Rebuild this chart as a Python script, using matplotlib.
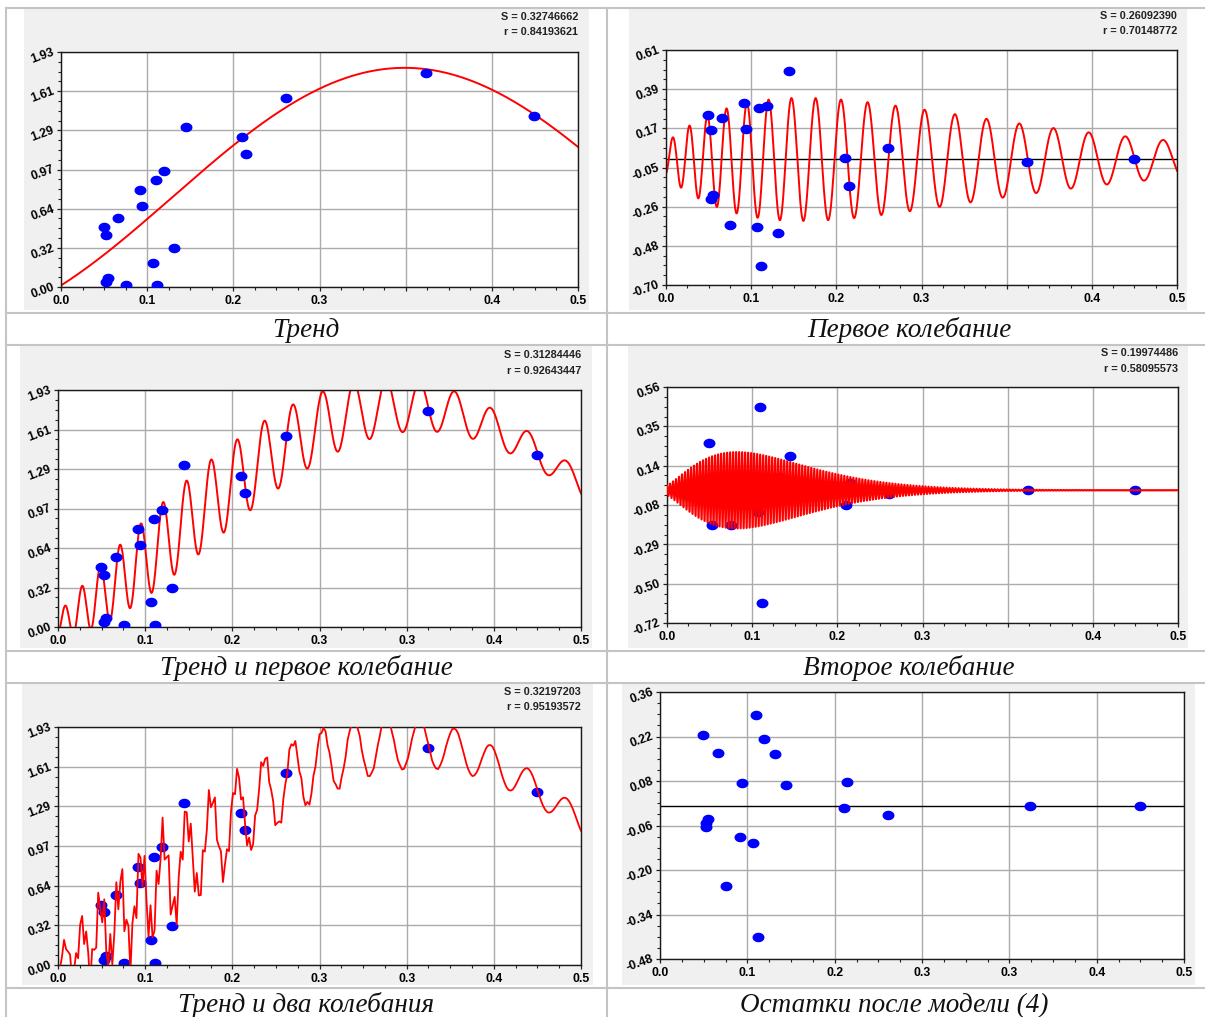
import numpy as np
import matplotlib
matplotlib.use("Agg")
import matplotlib.pyplot as plt
from matplotlib.path import Path
from matplotlib.patches import Rectangle
from matplotlib.ticker import AutoMinorLocator

plt.rcParams["font.family"] = ["Liberation Sans", "DejaVu Sans"]

W, H = 1205, 1017

# observed points (same x in every panel)
x_obs = [0.0413, 0.0436, 0.0440, 0.0456, 0.0552, 0.0630, 0.0761, 0.0783, 0.0887, 0.0914,
         0.0932, 0.0992, 0.1094, 0.1207, 0.1752, 0.1787, 0.2177, 0.3533, 0.4577]
y_obs = [0.490, 0.427, 0.039, 0.071, 0.569, 0.016, 0.796, 0.667, 0.200, 0.878,
         0.014, 0.955, 0.318, 1.316, 1.229, 1.094, 1.554, 1.759, 1.404]
# residuals after trend / after trend + first oscillation / after model (4)
res_trend = [0.246, 0.163, -0.220, -0.197, 0.233, -0.366, 0.315, 0.168, -0.379, 0.285,
             -0.594, 0.298, -0.411, 0.495, 0.007, -0.147, 0.064, -0.014, 0.003]
res_osc1 = [0.258, 0.060, -0.190, -0.060, 0.074, -0.190, 0.070, -0.080, -0.120, 0.450,
            -0.611, 0.060, 0.070, 0.187, -0.080, 0.039, -0.020, 0.002, 0.002]
res_model = [0.225, -0.053, -0.065, -0.040, 0.169, -0.250, -0.095, 0.075, -0.114, 0.288,
             -0.410, 0.211, 0.165, 0.067, -0.006, 0.076, -0.026, 0.000, 0.001]

# model parameters
trend_par = [0.74, 1.06, 7.0, 0.108]      # level, amplitude, angular freq, inflection
osc1_env = [0.343, 0.0164, 0.1494, 1]     # peak amp, shift, peak scale, power
osc1_phase = [40.55, 0.095, 12.923]       # cycles = k*sqrt(x+x0) - offset
osc2_env = [0.21, 0.012, 0.082, 2]
osc2_freq = 339.6

stats = [("0.32746662", "0.84193621"), ("0.26092390", "0.70148772"),
         ("0.31284446", "0.92643447"), ("0.19974486", "0.58095573"),
         ("0.32197203", "0.95193572"), None]
captions = ["Тренд", "Первое колебание", "Тренд и первое колебание",
            "Второе колебание", "Тренд и два колебания", "Остатки после модели (4)"]
y_ranges = [(0.0, 1.93), (-0.70, 0.61), (0.0, 1.93), (-0.72, 0.56), (0.0, 1.93), (-0.48, 0.36)]
y_labels = [["0.00", "0.32", "0.64", "0.97", "1.29", "1.61", "1.93"],
            ["-0.70", "-0.48", "-0.26", "-0.05", "0.17", "0.39", "0.61"],
            ["0.00", "0.32", "0.64", "0.97", "1.29", "1.61", "1.93"],
            ["-0.72", "-0.50", "-0.29", "-0.08", "0.14", "0.35", "0.56"],
            ["0.00", "0.32", "0.64", "0.97", "1.29", "1.61", "1.93"],
            ["-0.48", "-0.34", "-0.20", "-0.06", "0.08", "0.22", "0.36"]]
x_labels_full = ["0.0", "0.1", "0.2", "0.3", "0.3", "0.4", "0.5"]
x_labels_short = ["0.0", "0.1", "0.2", "0.3", "", "0.4", "0.5"]


def trend(x):
    c, a, w, xi = trend_par
    return c + a * np.sin(w * (x - xi))


def env(x, par):
    a, sh, tp, k = par
    s = (x + sh) / tp
    return a * (s * np.exp(1 - s)) ** k


def osc1(x):
    k, x0, off = osc1_phase
    return env(x, osc1_env) * np.cos(2 * np.pi * (k * np.sqrt(x + x0) - off))


def osc2(x):
    return env(x, osc2_env) * np.cos(2 * np.pi * osc2_freq * x)


xf = np.linspace(0, 0.5, 1500)
xc = np.linspace(0, 0.5, 341)
xs = np.linspace(0, 0.5, 261)

# pixel layout: grey box, plot box, stats y, caption (x, baseline)
layout = [
    ((24, 9, 589, 310), (61, 52, 578, 287), (17, 32), (306, 337)),
    ((629, 9, 1187, 310), (666, 50, 1177, 285), (16, 31), (909, 337)),
    ((20, 346, 592, 648), (58, 390, 581, 627), (355, 371), (306, 675)),
    ((628, 346, 1188, 648), (667, 387, 1178, 623), (353, 369), (909, 675)),
    ((22, 684, 593, 985), (58, 727, 581, 965), (692, 707), (306, 1012)),
    ((622, 684, 1195, 985), (660, 692, 1184, 959), None, (894, 1012)),
]

t = np.linspace(0, 2 * np.pi, 60)
dot = Path(np.column_stack([np.cos(t), 0.8 * np.sin(t)]), closed=True)

fig = plt.figure(figsize=(W / 100, H / 100), dpi=100)

bg = fig.add_axes([0, 0, 1, 1], zorder=-5)
bg.set_xlim(0, W)
bg.set_ylim(H, 0)
bg.axis("off")
for y in [8, 313, 345, 651, 683, 988]:
    bg.plot([6, W], [y, y], color="#c4c4c4", lw=1.5)
for x in [6, 607]:
    bg.plot([x, x], [8, H], color="#c4c4c4", lw=1.5)

axes = []
for i, (gbox, pbox, sy, cap) in enumerate(layout):
    bg.add_patch(Rectangle((gbox[0], gbox[1]), gbox[2] - gbox[0], gbox[3] - gbox[1],
                           fc="#f0f0f0", ec="none"))
    if stats[i] is not None:
        bg.text(pbox[2], sy[0], "S = " + stats[i][0], ha="right", va="center",
                fontsize=7.8, fontweight="bold", color="#222222")
        bg.text(pbox[2], sy[1], "r = " + stats[i][1], ha="right", va="center",
                fontsize=7.8, fontweight="bold", color="#222222")
    bg.text(cap[0], cap[1], captions[i], ha="center", va="baseline", fontsize=19.5,
            family=["Liberation Serif", "DejaVu Serif"], style="italic", color="#111111")

    ax = fig.add_axes([pbox[0] / W, 1 - pbox[3] / H, (pbox[2] - pbox[0]) / W,
                       (pbox[3] - pbox[1]) / H])
    lo, hi = y_ranges[i]
    ax.set_xlim(0, 0.5)
    ax.set_ylim(lo, hi)
    ax.set_xticks(np.linspace(0, 0.5, 7))
    xl = x_labels_full if i in (2, 4, 5) else x_labels_short
    ax.set_xticklabels(xl, fontsize=8.8, fontweight="bold")
    ax.set_yticks(np.linspace(lo, hi, 7))
    ax.set_yticklabels(y_labels[i], fontsize=8.8, fontweight="bold", rotation=20,
                       ha="right", va="center", rotation_mode="anchor")
    ax.xaxis.set_minor_locator(AutoMinorLocator(4))
    ax.yaxis.set_minor_locator(AutoMinorLocator(4))
    ax.grid(True, which="major", color="#ababab", lw=1.0)
    ax.set_axisbelow(True)
    ax.tick_params(which="major", direction="out", length=3, width=0.9, color="#222222")
    ax.tick_params(which="minor", direction="out", length=2, width=0.8, color="#222222")
    ax.tick_params(axis="x", pad=2.5)
    ax.tick_params(axis="y", pad=2)
    for sp in ax.spines.values():
        sp.set_color("#1a1a1a")
        sp.set_linewidth(1.0)
    axes.append(ax)

dot_kw = dict(linestyle="none", marker=dot, ms=8.6, color="#0000ff", mec="none")

# Тренд
axes[0].plot(xf, trend(xf), color="#ff0000", lw=1.4, zorder=2)
axes[0].plot(x_obs, y_obs, zorder=3, **dot_kw)

# Первое колебание
axes[1].axhline(0, color="black", lw=1.0, zorder=1.5)
axes[1].plot(xf, osc1(xf), color="#ff0000", lw=1.4, zorder=2)
axes[1].plot(x_obs, res_trend, zorder=3, **dot_kw)

# Тренд и первое колебание
axes[2].plot(xf, trend(xf) + osc1(xf), color="#ff0000", lw=1.4, zorder=2)
axes[2].plot(x_obs, y_obs, zorder=3, **dot_kw)

# Второе колебание
axes[3].plot(x_obs, res_osc1, zorder=2, **dot_kw)
axes[3].plot(xc, osc2(xc), color="#ff0000", lw=1.6, zorder=3)

# Тренд и два колебания
axes[4].plot(x_obs, y_obs, zorder=2, **dot_kw)
axes[4].plot(xs, trend(xs) + osc1(xs) + osc2(xs), color="#ff0000", lw=1.3, zorder=3)

# Остатки после модели (4)
axes[5].axhline(0, color="black", lw=1.0, zorder=1.5)
axes[5].plot(x_obs, res_model, zorder=3, **dot_kw)

fig.savefig("out.png", dpi=100)
